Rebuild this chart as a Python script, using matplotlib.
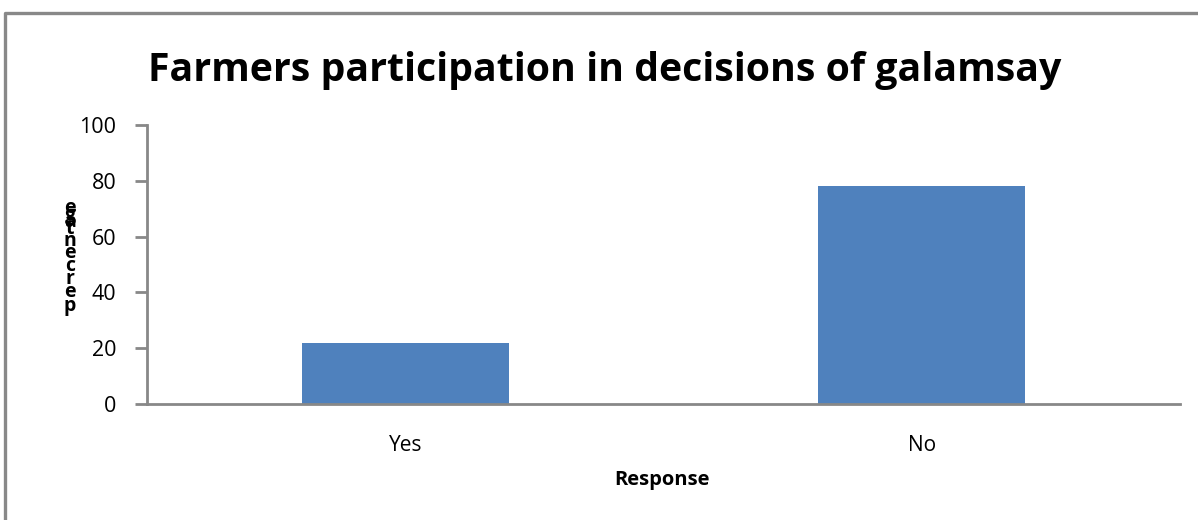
import matplotlib.pyplot as plt
from matplotlib.lines import Line2D

categories = ["Yes", "No"]
values = [22, 78]
ylabel_text = "percentage"

plt.rcParams['font.family'] = ['Open Sans', 'DejaVu Sans']

fig = plt.figure(figsize=(11.98, 5.2), dpi=100)
W, H = 1198, 520

# chart frame: only the top and left edges fall inside the image
fig.lines.append(Line2D([5 / W, 5 / W, 1], [0, 1 - 13 / H, 1 - 13 / H],
                        transform=fig.transFigure, color="#888888", linewidth=2.4))

ax = fig.add_axes([147 / W, 1 - 404 / H, (1180 - 147) / W, (404 - 125) / H])
ax.bar(range(len(categories)), values, width=0.40, color="#4F81BD")
ax.set_xlim(-0.5, len(categories) - 0.5)
ax.set_ylim(0, 100)
ax.set_yticks(range(0, 101, 20))
ax.set_xticks(range(len(categories)))
ax.set_xticklabels(categories)

for s in ["top", "right"]:
    ax.spines[s].set_visible(False)
for s in ["left", "bottom"]:
    ax.spines[s].set_color("#888888")
    ax.spines[s].set_linewidth(2)
ax.tick_params(axis="y", length=9, width=2, color="#888888", labelsize=15.5, pad=13)
ax.tick_params(axis="x", length=0, labelsize=15, pad=22)

fig.text(605 / W, 1 - 70 / H, "Farmers participation in decisions of galamsay",
         ha="center", va="center", fontsize=28.3, fontweight="bold")
fig.text(662 / W, 1 - 480 / H, "Response", ha="center", va="center",
         fontsize=14.5, fontweight="bold")

# y-axis title written as stacked upright letters, first letter at the bottom
y_pos = [306, 292, 279, 266, 253, 241, 229, 222, 215, 208]
for ch, yp in zip(ylabel_text, y_pos):
    fig.text(70 / W, 1 - yp / H, ch, ha="center", va="center",
             fontsize=14, fontweight="bold")

fig.savefig("out.png", dpi=100)
